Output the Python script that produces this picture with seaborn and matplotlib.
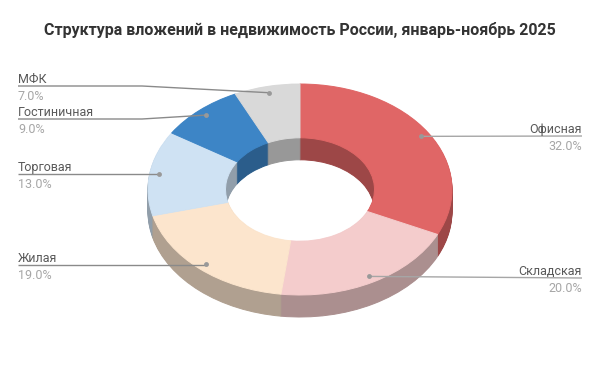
import numpy as np
import matplotlib
matplotlib.use('Agg')
import matplotlib.pyplot as plt
import matplotlib.transforms as mtransforms
import matplotlib.colors as mcolors
import seaborn as sns

# ---- data ----
categories = ["Офисная", "Складская", "Жилая", "Торговая", "Гостиничная", "МФК"]
values = [32.0, 20.0, 19.0, 13.0, 9.0, 7.0]
colors = ["#E06666", "#F4CCCC", "#FCE5CD", "#CFE2F3", "#3D85C6", "#D9D9D9"]
title = "Структура вложений в недвижимость России, январь-ноябрь 2025"

# ---- layout ----
sns.set_theme(style="white")
plt.rcParams['font.family'] = ['Roboto', 'DejaVu Sans']

fig = plt.figure(figsize=(6, 3.71), dpi=100)
ax = fig.add_axes([0, 0, 1, 1])

CX, CY, RX, RY, DEPTH = 300, 189.5, 152, 105.5, 22
HOLE = 0.49
side_colors = [tuple(np.array(mcolors.to_rgb(c)) * 0.7) for c in colors]


def T(dy=0):
    return mtransforms.Affine2D().scale(RX, -RY).translate(CX, CY + dy) + ax.transData


def draw_ring(cols, dy):
    wedges, _ = ax.pie(values, colors=cols, startangle=90, counterclock=False,
                       radius=1, wedgeprops=dict(width=1 - HOLE, linewidth=0.7))
    for w in wedges:
        w.set_edgecolor(w.get_facecolor())
        w.set_transform(T(dy))


# side walls (stacked layers), then top surface
for k in range(DEPTH, 0, -1):
    draw_ring(side_colors, k)
draw_ring(colors, 0)

ax.set_xlim(0, 600)
ax.set_ylim(371, 0)
ax.set_aspect('auto')
ax.axis('off')

# ---- labels ----
total = sum(values)
cum = np.cumsum(values) - np.array(values) / 2
mid = np.deg2rad(90 - 360 * cum / total)
dot_x = CX + RX * 0.94 * np.cos(mid)
dot_y = CY - RY * 0.94 * np.sin(mid)

side = ["R", "R", "L", "L", "L", "L"]
label_y = [136, 278, 265, 174, 119, 86]

for i, name in enumerate(categories):
    ly = label_y[i]
    if side[i] == "R":
        xs, ys = [dot_x[i], 582], [dot_y[i], ly]
        tx, ha = 582, "right"
        lc = "#a6a6a6"
    else:
        if abs(dot_y[i] - ly) > 2:
            xs, ys = [18, 142, dot_x[i]], [ly, ly, dot_y[i]]
        else:
            xs, ys = [18, dot_x[i]], [ly, ly]
        tx, ha = 18, "left"
        lc = "#8a8a8a"
    ax.plot(xs, ys, color=lc, lw=1.0, solid_capstyle='butt')
    ax.plot(dot_x[i], dot_y[i], 'o', color="#999999", ms=3.5, mec='none')
    ax.text(tx, ly - 3, name, ha=ha, va='baseline', fontsize=9, color="#595959")
    ax.text(tx, ly + 4, f"{values[i]:.1f}%", ha=ha, va='top', fontsize=9, color="#a6a6a6")

ax.text(300, 30, title, ha='center', va='center', fontsize=11.5,
        fontweight='bold', color="#333333")

fig.savefig("out.png", dpi=100)
